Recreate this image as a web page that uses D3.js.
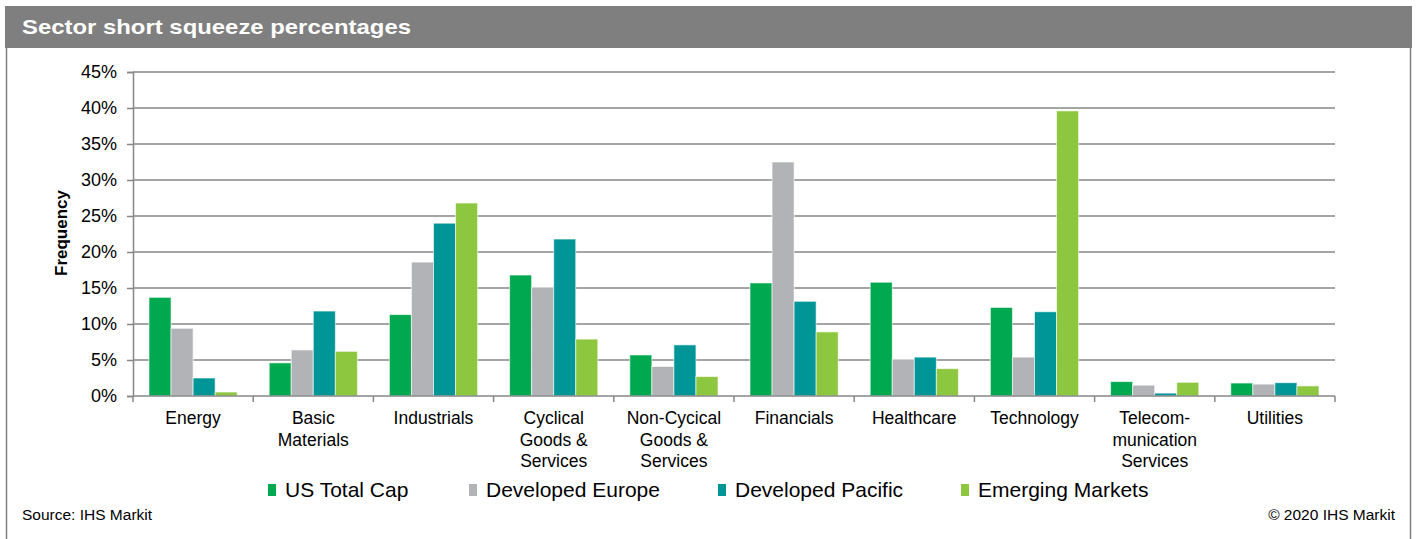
<!DOCTYPE html>
<html>
<head>
<meta charset="utf-8">
<script src="https://cdn.jsdelivr.net/npm/d3@7"></script>
<style>
  body { margin: 0; background: #fff; }
  svg { display: block; font-family: "Liberation Sans", Arial, sans-serif; }
</style>
</head>
<body>
<svg id="chart" width="1416" height="539"></svg>
<script>
// sectors (line breaks as in the source)
var sectors = [
  ["Energy"],
  ["Basic", "Materials"],
  ["Industrials"],
  ["Cyclical", "Goods &", "Services"],
  ["Non-Cycical", "Goods &", "Services"],
  ["Financials"],
  ["Healthcare"],
  ["Technology"],
  ["Telecom-", "munication", "Services"],
  ["Utilities"]
];
var seriesNames = ["US Total Cap", "Developed Europe", "Developed Pacific", "Emerging Markets"];
var seriesColors = ["#00a84f", "#b1b3b6", "#009597", "#8dc63f"];

// values in %
var usTotalCap       = [13.7, 4.6, 11.3, 16.8, 5.7, 15.7, 15.8, 12.3, 2.0, 1.8];
var developedEurope  = [9.4, 6.4, 18.6, 15.1, 4.1, 32.5, 5.1, 5.4, 1.5, 1.65];
var developedPacific = [2.5, 11.8, 24.0, 21.8, 7.1, 13.15, 5.4, 11.7, 0.4, 1.85];
var emergingMarkets  = [0.55, 6.2, 26.8, 7.9, 2.7, 8.9, 3.8, 39.6, 1.9, 1.4];
var yTicks = [0, 5, 10, 15, 20, 25, 30, 35, 40, 45];

(function () {
  var series = [usTotalCap, developedEurope, developedPacific, emergingMarkets];

  var svg = d3.select("#chart");

  // frame + title bar
  svg.append("line").attr("x1", 6.5).attr("x2", 6.5).attr("y1", 48).attr("y2", 539)
    .attr("stroke", "#7f7f7f").attr("stroke-width", 1.5);
  svg.append("line").attr("x1", 1410.5).attr("x2", 1410.5).attr("y1", 48).attr("y2", 539)
    .attr("stroke", "#7f7f7f").attr("stroke-width", 1.5);
  svg.append("rect").attr("x", 5).attr("y", 6).attr("width", 1407).attr("height", 42)
    .attr("fill", "#7f7f7f");
  svg.append("text").attr("x", 22).attr("y", 34)
    .attr("fill", "#fff").attr("font-weight", "bold").attr("font-size", 20.5)
    .attr("textLength", 389).attr("lengthAdjust", "spacingAndGlyphs")
    .text("Sector short squeeze percentages");

  var plotLeft = 133, plotRight = 1335, plotTop = 72, plotBottom = 396;

  var x0 = d3.scaleBand().domain(d3.range(sectors.length)).range([plotLeft, plotRight]).padding(0);
  var x1 = d3.scaleBand().domain(d3.range(series.length))
    .range([16, x0.bandwidth() - 16]).padding(0);
  var y = d3.scaleLinear().domain([0, 45]).range([plotBottom, plotTop]);

  // gridlines
  svg.append("g").selectAll("line").data(yTicks.slice(1)).join("line")
    .attr("x1", plotLeft).attr("x2", plotRight)
    .attr("y1", function(d) { return y(d); }).attr("y2", function(d) { return y(d); })
    .attr("stroke", "#878787").attr("stroke-width", 1.5);

  // y axis
  var yAxis = svg.append("g").attr("transform", "translate(" + plotLeft + ",0)")
    .call(d3.axisLeft(y).tickValues(yTicks).tickSize(6).tickPadding(10)
      .tickFormat(function(d) { return d + "%"; }));
  yAxis.selectAll("path,line").attr("stroke", "#878787").attr("stroke-width", 1.5);
  yAxis.selectAll("text").attr("font-size", 18).attr("fill", "#000")
    .attr("font-family", "Liberation Sans, Arial, sans-serif");

  svg.append("text")
    .attr("transform", "translate(67,233) rotate(-90)")
    .attr("text-anchor", "middle").attr("font-weight", "bold").attr("font-size", 17)
    .text("Frequency");

  // bars
  var groups = svg.append("g").selectAll("g").data(sectors).join("g")
    .attr("transform", function(d, i) { return "translate(" + x0(i) + ",0)"; });
  groups.selectAll("rect")
    .data(function(d, i) { return series.map(function(s, k) { return { k: k, v: s[i] }; }); })
    .join("rect")
    .attr("x", function(d) { return x1(d.k); })
    .attr("width", x1.bandwidth())
    .attr("y", function(d) { return y(d.v); })
    .attr("height", function(d) { return plotBottom - y(d.v); })
    .attr("fill", function(d) { return seriesColors[d.k]; })
    .attr("stroke", "#fff").attr("stroke-opacity", 0.6).attr("stroke-width", 1);

  // x axis
  var xAxis = svg.append("g").attr("transform", "translate(0," + plotBottom + ")");
  xAxis.append("line").attr("x1", plotLeft).attr("x2", plotRight)
    .attr("stroke", "#878787").attr("stroke-width", 1.5);
  xAxis.selectAll("line.tick").data(d3.range(sectors.length + 1)).join("line")
    .attr("class", "tick")
    .attr("x1", function(i) { return plotLeft + i * x0.bandwidth(); })
    .attr("x2", function(i) { return plotLeft + i * x0.bandwidth(); })
    .attr("y1", 0).attr("y2", 6)
    .attr("stroke", "#878787").attr("stroke-width", 1.5);
  xAxis.selectAll("text").data(sectors).join("text")
    .attr("text-anchor", "middle").attr("font-size", 17.5)
    .attr("x", function(d, i) { return x0(i) + x0.bandwidth() / 2; })
    .each(function(d) {
      var t = d3.select(this);
      d.forEach(function(line, j) {
        t.append("tspan").attr("x", t.attr("x")).attr("y", 28 + j * 21.5).text(line);
      });
    });

  // legend
  var legendX = [268, 469, 718, 961];
  var legend = svg.append("g").selectAll("g").data(seriesNames).join("g")
    .attr("transform", function(d, i) { return "translate(" + legendX[i] + ",484)"; });
  legend.append("rect").attr("width", 8).attr("height", 12)
    .attr("fill", function(d, i) { return seriesColors[i]; });
  legend.append("text").attr("x", 17).attr("y", 13).attr("font-size", 21)
    .text(function(d) { return d; });

  // footer
  svg.append("text").attr("x", 22).attr("y", 520).attr("font-size", 15.5)
    .text("Source: IHS Markit");
  svg.append("text").attr("x", 1395).attr("y", 520).attr("font-size", 15.5)
    .attr("text-anchor", "end").text("\u00a9 2020 IHS Markit");
}());
</script>
</body>
</html>
